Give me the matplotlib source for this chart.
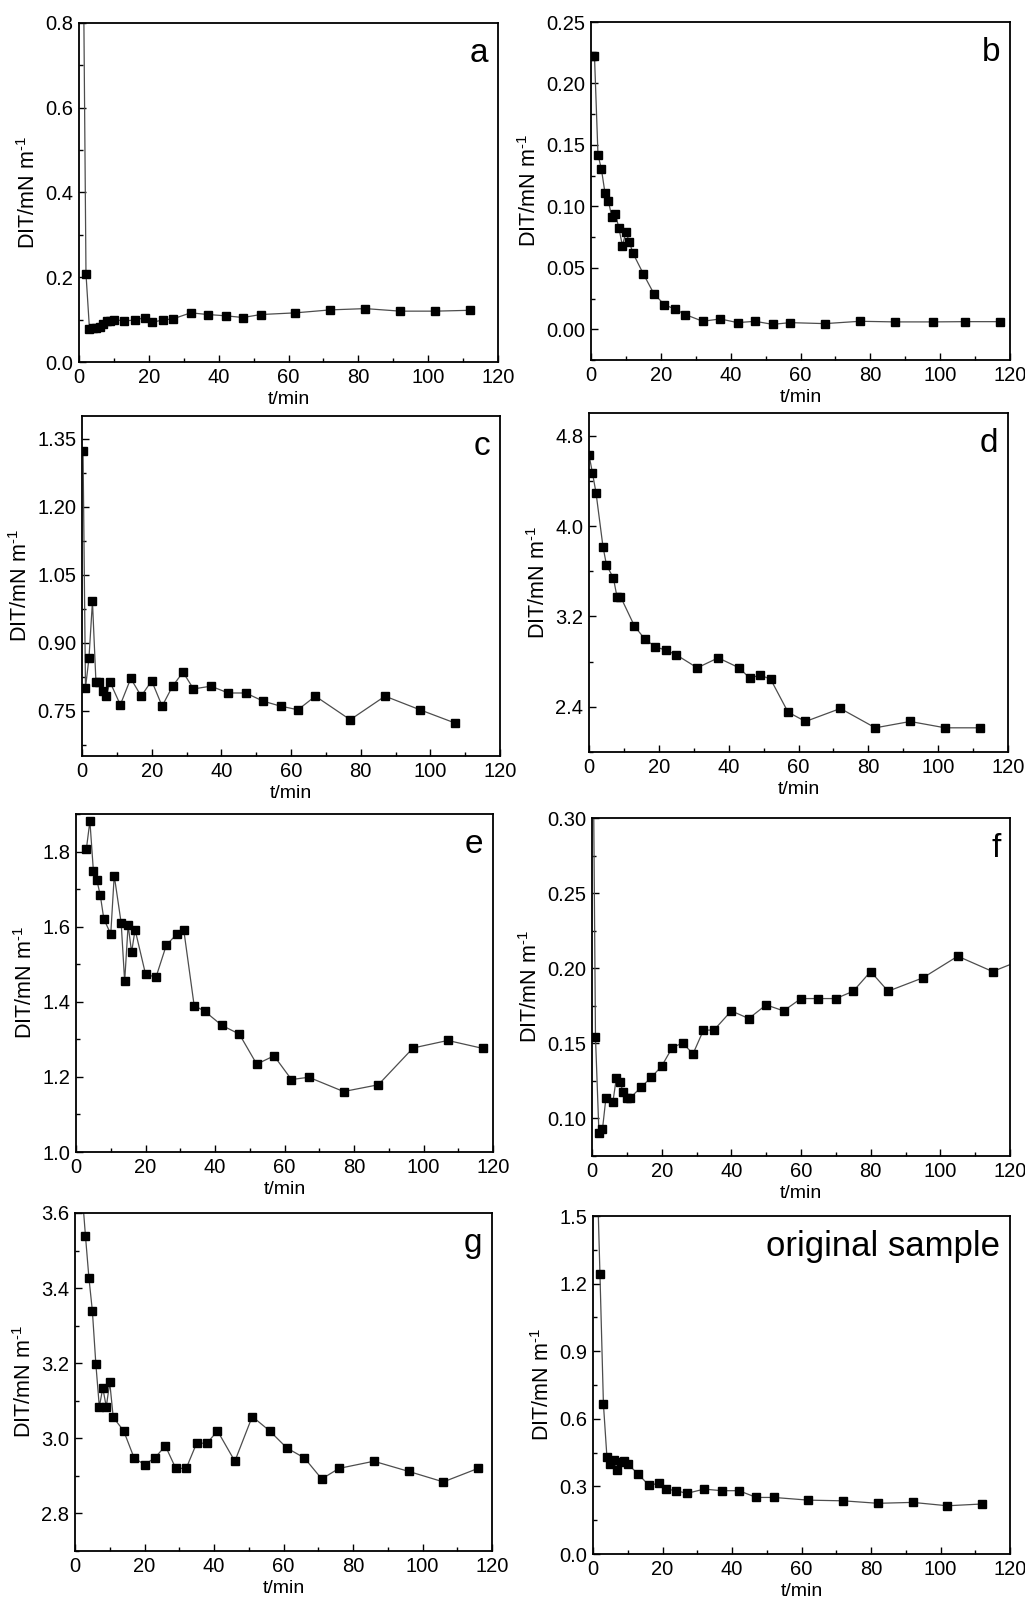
import matplotlib
matplotlib.use("Agg")
import matplotlib.pyplot as plt
from matplotlib.ticker import MultipleLocator, FormatStrFormatter

plt.rcParams["font.family"] = ["Liberation Sans", "DejaVu Sans"]
plt.rcParams["mathtext.fontset"] = "custom"
plt.rcParams["mathtext.rm"] = "Liberation Sans"
plt.rcParams["mathtext.it"] = "Liberation Sans:italic"

# panel a
t_a = [1, 2, 3, 4, 5, 6, 7, 8, 9, 10, 13, 16, 19, 21, 24, 27, 32, 37, 42, 47,
       52, 62, 72, 82, 92, 102, 112]
dit_a = [1.2, 0.208, 0.078, 0.08, 0.08, 0.082, 0.09, 0.096, 0.097, 0.1, 0.097,
         0.099, 0.105, 0.094, 0.099, 0.102, 0.116, 0.112, 0.109, 0.105, 0.112,
         0.116, 0.123, 0.126, 0.12, 0.12, 0.122]

# panel b
t_b = [0.3, 1, 2, 3, 4, 5, 6, 7, 8, 9, 10, 11, 12, 15, 18, 21, 24, 27, 32, 37,
       42, 47, 52, 57, 67, 77, 87, 98, 107, 117]
dit_b = [0.222, 0.222, 0.142, 0.130, 0.111, 0.104, 0.091, 0.094, 0.082, 0.068,
         0.079, 0.071, 0.062, 0.045, 0.029, 0.020, 0.0165, 0.012, 0.0065,
         0.0084, 0.0054, 0.0065, 0.004, 0.0054, 0.0046, 0.0065, 0.006, 0.006,
         0.0062, 0.0062]

# panel c
t_c = [0.3, 1, 2, 3, 4, 5, 6, 7, 8, 11, 14, 17, 20, 23, 26, 29, 32, 37, 42, 47,
       52, 57, 62, 67, 77, 87, 97, 107]
dit_c = [1.323, 0.80, 0.866, 0.991, 0.814, 0.814, 0.794, 0.782, 0.814, 0.763,
         0.821, 0.782, 0.816, 0.760, 0.804, 0.835, 0.798, 0.804, 0.789, 0.789,
         0.771, 0.760, 0.752, 0.782, 0.730, 0.782, 0.752, 0.723]

# panel d
t_d = [0, 1, 2, 4, 5, 7, 8, 9, 13, 16, 19, 22, 25, 31, 37, 43, 46, 49, 52, 57,
       62, 72, 82, 92, 102, 112]
dit_d = [4.63, 4.467, 4.296, 3.818, 3.656, 3.538, 3.376, 3.376, 3.116, 2.998,
         2.931, 2.901, 2.860, 2.745, 2.833, 2.745, 2.654, 2.680, 2.645, 2.353,
         2.270, 2.385, 2.214, 2.270, 2.214, 2.214]

# panel e
t_e = [3, 4, 5, 6, 7, 8, 10, 11, 13, 14, 15, 16, 17, 20, 23, 26, 29, 31, 34,
       37, 42, 47, 52, 57, 62, 67, 77, 87, 97, 107, 117]
dit_e = [1.808, 1.881, 1.749, 1.724, 1.683, 1.621, 1.580, 1.736, 1.610, 1.454,
         1.604, 1.532, 1.592, 1.474, 1.465, 1.551, 1.580, 1.592, 1.390, 1.375,
         1.337, 1.314, 1.234, 1.256, 1.193, 1.199, 1.161, 1.179, 1.277, 1.297,
         1.276]

# panel f
t_f = [0, 1, 2, 3, 4, 6, 7, 8, 9, 10, 11, 14, 17, 20, 23, 26, 29, 32, 35, 40,
       45, 50, 55, 60, 65, 70, 75, 80, 85, 95, 105, 115, 125]
dit_f = [0.45, 0.154, 0.090, 0.0927, 0.1137, 0.111, 0.127, 0.124, 0.1177,
         0.1137, 0.1137, 0.1206, 0.1273, 0.1348, 0.147, 0.1503, 0.143, 0.1588,
         0.1588, 0.1716, 0.1665, 0.1756, 0.1716, 0.1798, 0.1798, 0.1798,
         0.1847, 0.1978, 0.1847, 0.1936, 0.208, 0.1978, 0.207]

# panel g
t_g = [2, 3, 4, 5, 6, 7, 8, 9, 10, 11, 14, 17, 20, 23, 26, 29, 32, 35, 38, 41,
       46, 51, 56, 61, 66, 71, 76, 86, 96, 106, 116]
dit_g = [3.66, 3.540, 3.428, 3.339, 3.198, 3.084, 3.134, 3.084, 3.149, 3.056,
         3.020, 2.948, 2.930, 2.948, 2.980, 2.920, 2.920, 2.987, 2.987, 3.020,
         2.939, 3.058, 3.020, 2.974, 2.948, 2.892, 2.920, 2.939, 2.912, 2.884,
         2.920]

# original sample
t_h = [1, 2, 3, 4, 5, 6, 7, 8, 9, 10, 13, 16, 19, 21, 24, 27, 32, 37, 42, 47,
       52, 62, 72, 82, 92, 102, 112]
dit_h = [1.8, 1.243, 0.665, 0.432, 0.399, 0.417, 0.375, 0.409, 0.412, 0.399,
         0.355, 0.306, 0.313, 0.288, 0.281, 0.269, 0.288, 0.281, 0.281, 0.251,
         0.251, 0.239, 0.236, 0.225, 0.229, 0.214, 0.222]

panels = [
    ("a", t_a, dit_a, (0, 0.8), 0.2, "%.1f", (79, 23, 498, 362)),
    ("b", t_b, dit_b, (-0.025, 0.25), 0.05, "%.2f", (591, 22, 1010, 360)),
    ("c", t_c, dit_c, (0.65, 1.40), 0.15, "%.2f", (82, 416, 500, 756)),
    ("d", t_d, dit_d, (2.0, 5.0), 0.8, "%.1f", (589, 413, 1008, 752)),
    ("e", t_e, dit_e, (1.0, 1.9), 0.2, "%.1f", (76, 814, 493, 1152)),
    ("f", t_f, dit_f, (0.075, 0.30), 0.05, "%.2f", (592, 818, 1010, 1156)),
    ("g", t_g, dit_g, (2.7, 3.6), 0.2, "%.1f", (75, 1213, 492, 1551)),
    ("original sample", t_h, dit_h, (0, 1.5), 0.3, "%.1f", (593, 1216, 1010, 1554)),
]

W, H = 1025, 1601
fig = plt.figure(figsize=(W / 100, H / 100), dpi=100)

for label, t, dit, ylim, ystep, fmt, (x0, y0, x1, y1) in panels:
    ax = fig.add_axes([x0 / W, 1 - y1 / H, (x1 - x0) / W, (y1 - y0) / H])
    ax.plot(t, dit, color="#4d4d4d", lw=0.9, marker="s", ms=6,
            mfc="black", mec="black")
    ax.set_xlim(0, 120)
    ax.set_ylim(*ylim)
    ax.xaxis.set_major_locator(MultipleLocator(20))
    ax.xaxis.set_minor_locator(MultipleLocator(10))
    ax.yaxis.set_major_locator(MultipleLocator(ystep))
    ax.yaxis.set_minor_locator(MultipleLocator(ystep / 2))
    ax.yaxis.set_major_formatter(FormatStrFormatter(fmt))
    ax.tick_params(which="both", direction="in", top=False, right=False,
                   labelsize=14.5, pad=4)
    ax.tick_params(which="major", length=5, width=1)
    ax.tick_params(which="minor", length=3, width=1)
    for s in ax.spines.values():
        s.set_linewidth(1.3)
    ax.set_xlabel("t/min", fontsize=14, labelpad=3)
    ax.set_ylabel(r"DIT/mN m$^{\text{-1}}$", fontsize=15.5, labelpad=4)
    ax.text(0.977, 0.91, label, transform=ax.transAxes, ha="right",
            va="center", fontsize=25 if len(label) > 1 else 24)

plt.savefig("out.png", dpi=100)
